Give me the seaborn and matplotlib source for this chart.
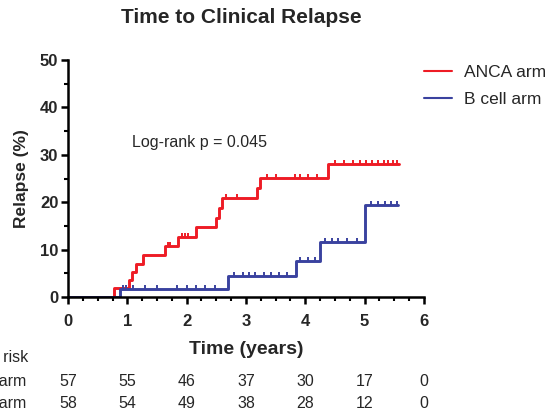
import matplotlib
matplotlib.use("Agg")
import matplotlib.pyplot as plt
from matplotlib.transforms import blended_transform_factory
from matplotlib.ticker import MultipleLocator
import seaborn as sns
import pandas as pd
import numpy as np

# Kaplan-Meier style cumulative relapse (%)
anca_t = [0, 0.78, 1.02, 1.08, 1.15, 1.27, 1.64, 1.85, 2.15, 2.50, 2.55, 2.60, 3.18, 3.23, 4.38, 5.58]
anca_y = [0, 1.8, 3.5, 5.3, 7.0, 8.9, 10.7, 12.7, 14.8, 16.7, 18.8, 20.9, 23.0, 25.2, 28.0, 28.0]
anca_cens = [1.68, 1.72, 1.92, 1.97, 2.02, 2.66, 2.85, 3.36, 3.50, 3.83, 3.91, 4.05, 4.20,
             4.50, 4.65, 4.80, 4.92, 5.02, 5.12, 5.22, 5.32, 5.40, 5.48, 5.55]

bcell_t = [0, 0.88, 2.70, 3.84, 4.25, 5.01, 5.57]
bcell_y = [0, 1.7, 4.4, 7.7, 11.7, 19.4, 19.4]
bcell_cens = [0.93, 0.97, 1.10, 1.30, 1.50, 1.83, 2.00, 2.15, 2.31, 2.48, 2.80, 2.95, 3.05,
              3.15, 3.30, 3.42, 3.55, 3.69, 3.91, 4.05, 4.17, 4.33, 4.45, 4.55, 4.70, 4.87,
              5.10, 5.22, 5.34, 5.45, 5.55]

risk_times = [0, 1, 2, 3, 4, 5, 6]
anca_risk = [57, 55, 46, 37, 30, 17, 0]
bcell_risk = [58, 54, 49, 38, 28, 12, 0]

arms = ["ANCA arm", "B cell arm"]
colors = {"ANCA arm": "#EE1C25", "B cell arm": "#3A429F"}

df = pd.concat([
    pd.DataFrame({"time": anca_t, "relapse": anca_y, "arm": arms[0]}),
    pd.DataFrame({"time": bcell_t, "relapse": bcell_y, "arm": arms[1]}),
])

sns.set_theme(style="ticks")
plt.rcParams["font.family"] = ["Liberation Sans", "DejaVu Sans"]

fig = plt.figure(figsize=(5.45, 4.09), dpi=100)
ax = fig.add_axes([0.1248, 0.2738, 0.653, 0.5795])

sns.lineplot(data=df, x="time", y="relapse", hue="arm", palette=colors,
             drawstyle="steps-post", estimator=None, lw=2.1, ax=ax)


def step_value(ts, ys, x):
    i = np.searchsorted(ts, x, side="right") - 1
    return np.array(ys)[i]


for arm, ts, ys, cens in [(arms[0], anca_t, anca_y, anca_cens),
                          (arms[1], bcell_t, bcell_y, bcell_cens)]:
    ax.plot(cens, step_value(ts, ys, cens), ls="none", marker=2,
            markersize=3, mew=1.4, color=colors[arm])

ax.set_xlim(0, 6)
ax.set_ylim(0, 50)
ax.xaxis.set_major_locator(MultipleLocator(1))
ax.xaxis.set_minor_locator(MultipleLocator(0.25))
ax.yaxis.set_major_locator(MultipleLocator(10))
ax.yaxis.set_minor_locator(MultipleLocator(5))
ax.tick_params(which="major", length=5, width=1.8, labelsize=12, color="black")
ax.tick_params(which="minor", length=3, width=1.5, color="black")
ax.tick_params(axis="x", which="major", pad=7)
ax.tick_params(axis="y", which="major", pad=2)
for lab in ax.get_xticklabels() + ax.get_yticklabels():
    lab.set_fontweight("bold")
for s in ["left", "bottom"]:
    ax.spines[s].set_linewidth(1.8)
    ax.spines[s].set_color("black")
sns.despine(ax=ax)

ax.set_xlabel("Time (years)", fontsize=14, fontweight="bold")
ax.set_ylabel("Relapse (%)", fontsize=12.5, fontweight="bold")
ax.xaxis.set_label_coords(0.5, -0.185)
ax.yaxis.set_label_coords(-0.11, 0.5)

fig.suptitle("Time to Clinical Relapse", x=0.443, y=0.956, va="center",
             fontsize=15, fontweight="bold")

ax.text(1.08, 32.7, "Log-rank p = 0.045", fontsize=11.5, va="center")

leg = ax.legend(loc="upper left", bbox_to_anchor=(424 / 545, 1 - 65 / 409),
                bbox_transform=fig.transFigure, frameon=False, fontsize=12.5,
                handlelength=1.6, handletextpad=0.7, labelspacing=0.67,
                borderpad=0, borderaxespad=0)
for h in leg.get_lines():
    h.set_linewidth(1.5)

# number at risk table
tr = blended_transform_factory(ax.transData, fig.transFigure)
fig.text(28 / 545, 1 - 358 / 409, "No. at risk", ha="right", va="center", fontsize=11.5)
for row, (name, counts) in enumerate([(arms[0], anca_risk), (arms[1], bcell_risk)]):
    yy = 1 - (382 + row * 21) / 409
    fig.text(26 / 545, yy, name, ha="right", va="center", fontsize=11.5)
    for t, n in zip(risk_times, counts):
        ax.text(t, yy, str(n), transform=tr, ha="center", va="center",
                fontsize=11.5, clip_on=False)

fig.savefig("out.png", dpi=100)
